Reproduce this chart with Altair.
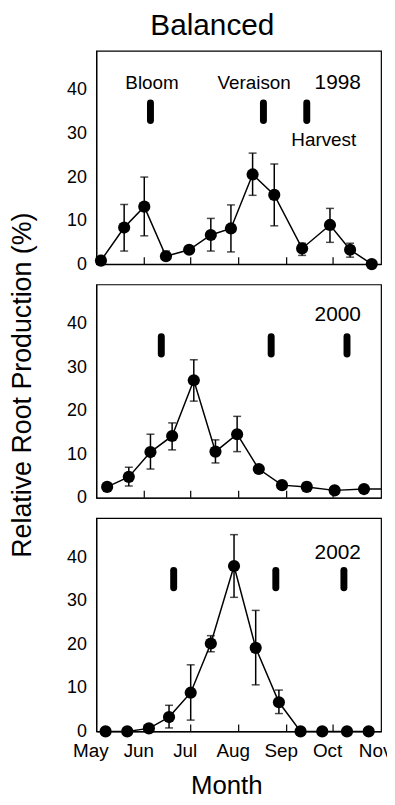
import altair as alt
import pandas as pd

YEAR = 2001
FONT = "Liberation Sans"

# ---- data (month-day, value in %) ----
years = ["1998", "2000", "2002"]

dates98 = ["05-04", "05-19", "06-01", "06-15", "06-30", "07-14", "07-27",
           "08-10", "08-24", "09-11", "09-29", "10-12", "10-26"]
vals98 = [0.8, 8.4, 13.2, 1.8, 3.3, 6.7, 8.2, 20.6, 15.9, 3.6, 9.0, 3.3, 0.0]
lo98 = [0.8, 3.0, 6.5, 1.0, 3.3, 3.0, 2.8, 15.8, 8.8, 2.0, 5.0, 1.6, 0.0]
hi98 = [0.8, 13.7, 20.0, 3.0, 3.3, 10.5, 13.6, 25.5, 23.0, 4.8, 12.8, 4.8, 0.0]

dates00 = ["05-08", "05-22", "06-05", "06-19", "07-03", "07-17", "07-31",
           "08-14", "08-29", "09-14", "10-02", "10-21", "11-08"]
vals00 = [2.5, 4.8, 10.5, 14.2, 27.0, 10.6, 14.6, 6.6, 2.9, 2.5, 1.7, 2.0, 2.0]
lo00 = [2.5, 2.7, 6.6, 11.0, 22.2, 8.0, 10.6, 6.6, 2.9, 1.5, 1.7, 2.0, 2.0]
hi00 = [2.5, 7.0, 14.6, 17.2, 31.7, 13.3, 18.7, 6.6, 2.9, 3.5, 1.7, 2.0, 2.0]

dates02 = ["05-07", "05-21", "06-04", "06-17", "07-01", "07-14", "07-29",
           "08-12", "08-27", "09-10", "09-24", "10-10", "10-24"]
vals02 = [0.0, 0.0, 0.7, 3.3, 8.9, 20.2, 38.0, 19.2, 6.7, 0.0, 0.0, 0.0, 0.0]
lo02 = [0.0, 0.0, 0.7, 0.8, 2.6, 18.3, 30.8, 10.7, 4.1, 0.0, 0.0, 0.0, 0.0]
hi02 = [0.0, 0.0, 0.7, 6.0, 15.3, 22.0, 45.2, 27.8, 9.5, 0.0, 0.0, 0.0, 0.0]

# phenology stages: bloom, veraison, harvest
pheno98 = ["06-05", "08-17", "09-14"]
pheno00 = ["06-12", "08-22", "10-10"]
pheno02 = ["06-20", "08-25", "10-08"]
marker_lo, marker_hi = 33, 37

# text annotations (1998 panel) : label, month-day, y
ann_labels = ["Bloom", "Veraison", "Harvest"]
ann_dates = ["06-06", "08-11", "09-25"]
ann_y = [41.6, 41.6, 28.6]
year_label_date = "10-19"
year_label_y = [41.6, 42.0, 40.9]

month_ticks = ["06-01", "07-01", "08-01", "09-01", "10-01"]

series = [
    (dates98, vals98, lo98, hi98, pheno98),
    (dates00, vals00, lo00, hi00, pheno00),
    (dates02, vals02, lo02, hi02, pheno02),
]


def d(md):
    return f"{YEAR}-{md}T00:00:00"


W, H = 287, 215
xdomain = [alt.DateTime(year=YEAR, month=5, date=1),
           alt.DateTime(year=YEAR, month=11, date=1)]
month_vals = [alt.DateTime(year=YEAR, month=m, date=1) for m in range(5, 12)]
yscale = alt.Scale(domain=[0, 49], nice=False)


def panel(i):
    dates, vals, lo, hi, pheno = series[i]
    df = pd.DataFrame({"date": [d(x) for x in dates], "v": vals, "lo": lo, "hi": hi})
    df_pts = df[df["date"] <= d("11-01")]
    df_err = df_pts[df_pts["hi"] > df_pts["lo"]]

    bottom = i == 2
    middle = i == 1
    if bottom:
        xaxis = alt.Axis(values=month_vals, format="%b", ticks=False, grid=False,
                         labelOffset=-6, labelPadding=10, labelFlush=False,
                         labelBound=False, labelOverlap=False, labelFontSize=19,
                         title="Month", titleFontSize=26, titlePadding=13, titleX=131)
    else:
        xaxis = alt.Axis(labels=False, ticks=False, grid=False, title=None)
    x = alt.X("date:T", scale=alt.Scale(domain=xdomain), axis=xaxis)

    if middle:
        yaxis = alt.Axis(values=[0, 10, 20, 30, 40], ticks=False, grid=False,
                         labelPadding=10, title="Relative Root Production (%)",
                         titleFontSize=27, titlePadding=30, titleY=101)
    else:
        yaxis = alt.Axis(values=[0, 10, 20, 30, 40], ticks=False, grid=False,
                         labelPadding=10, title=None)
    y = alt.Y("v:Q", scale=yscale, axis=yaxis)

    base = alt.Chart(df_pts)
    line = alt.Chart(df).mark_line(color="black", strokeWidth=1.5, clip=True).encode(
        x=x, y=y)
    pts = base.mark_circle(color="black", opacity=1, size=150).encode(x=x, y=y)
    err_df = alt.Chart(df_err)
    rule = err_df.mark_rule(color="black", strokeWidth=1.5).encode(
        x=alt.X("date:T"), y=alt.Y("lo:Q"), y2="hi:Q")
    cap_lo = err_df.mark_tick(color="black", orient="horizontal", size=8,
                              thickness=1.5).encode(x="date:T", y="lo:Q")
    cap_hi = err_df.mark_tick(color="black", orient="horizontal", size=8,
                              thickness=1.5).encode(x="date:T", y="hi:Q")

    ph = pd.DataFrame({"date": [d(p) for p in pheno], "lo": marker_lo, "hi": marker_hi})
    phen = alt.Chart(ph).mark_rule(color="black", strokeWidth=7, strokeCap="round").encode(
        x="date:T", y="lo:Q", y2="hi:Q")

    tk = pd.DataFrame({"date": [d(m) for m in month_ticks]})
    ticks = alt.Chart(tk).mark_rule(color="black", strokeWidth=1.2).encode(
        x="date:T", y=alt.value(H), y2=alt.value(H - 7))

    yl = pd.DataFrame({"date": [d(year_label_date)], "y": [year_label_y[i]],
                       "t": [years[i]]})
    ylab = alt.Chart(yl).mark_text(font=FONT, fontSize=21, align="right",
                                   baseline="middle", color="black").encode(
        x="date:T", y="y:Q", text="t:N")

    layers = [ticks, rule, cap_lo, cap_hi, line, pts, phen, ylab]
    if i == 0:
        an = pd.DataFrame({"date": [d(a) for a in ann_dates], "y": ann_y,
                           "t": ann_labels})
        ann = alt.Chart(an).mark_text(font=FONT, fontSize=19, align="center",
                                      baseline="middle", color="black").encode(
            x="date:T", y="y:Q", text="t:N")
        layers.append(ann)

    return alt.layer(*layers).properties(width=W, height=H)


chart = alt.vconcat(panel(0), panel(1), panel(2), spacing=20.5, bounds="flush").properties(
    title=alt.Title("Balanced", font=FONT, fontSize=30, fontWeight="normal",
                    color="black", anchor="middle", dx=12, offset=9),
    padding={"left": 0, "top": 0, "right": -6, "bottom": 0},
).configure_axis(
    labelFont=FONT, labelFontSize=18, labelColor="black",
    domainColor="black", domainWidth=1.2,
    titleFont=FONT, titleFontWeight="normal", titleColor="black",
).configure_view(stroke="black", strokeWidth=1.2)

chart.save("out.html", embed_options={"renderer": "svg", "actions": False})
